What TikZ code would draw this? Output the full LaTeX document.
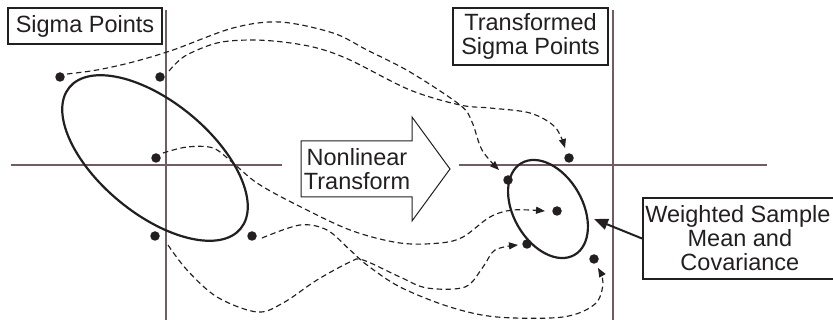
\documentclass[tikz,border=0pt]{standalone}
\usepackage{fontspec}
\setmainfont{Liberation Sans}
\usetikzlibrary{arrows.meta,calc}
\definecolor{axiscol}{RGB}{112,92,98}
\definecolor{ink}{RGB}{35,31,32}
\begin{document}
\begin{tikzpicture}[x=1pt,y=-1pt,
  axisline/.style={draw=axiscol,line width=1.6pt},
  dotnode/.style={circle,fill=ink,inner sep=0pt,minimum size=9.5pt},
  labelbox/.style={draw=ink,line width=1.8pt,inner sep=0pt,align=center,text=ink,
    font=\fontsize{23.5}{24}\selectfont},
  flow/.style={ink,line width=1.15pt,dash pattern=on 5.5pt off 3.5pt,
    -{Triangle[length=9pt,width=7pt]},smooth,tension=0.55},
  ell/.style={draw=ink,line width=2.2pt}]
\useasboundingbox (0,0) rectangle (833,320);
% axes
\draw[axisline] (166,10) -- (166,320);
\draw[axisline] (11,165) -- (282,165);
\draw[axisline] (613,10) -- (613,320);
\draw[axisline] (459,165) -- (767,165);
% ellipses
\draw[ell,rotate around={-39.5:(155,158)}] (155,158) ellipse [x radius=111, y radius=56];
\draw[ell,rotate around={-60:(548,209)}] (548,209) ellipse [x radius=53, y radius=34.5];
\coordinate (etip) at (594,219);
% dots
\node[dotnode] (L1) at (60,77) {};
\node[dotnode] (L2) at (160,77) {};
\node[dotnode] (L3) at (156,158) {};
\node[dotnode] (L4) at (155,236) {};
\node[dotnode] (L5) at (252,236) {};
\node[dotnode] (R1) at (569,158) {};
\node[dotnode] (R2) at (508,180) {};
\node[dotnode] (R3) at (557,211) {};
\node[dotnode] (R4) at (527,244) {};
\node[dotnode] (R5) at (594,259) {};
% labels
\node[labelbox,minimum width=154pt,minimum height=36pt] (sp) at (85,26) {Sigma Points};
\node[labelbox,minimum width=155pt,minimum height=57pt] (tsp) at (530.5,36.5) {Transformed\\Sigma Points};
\node[labelbox,minimum width=194pt,minimum height=81pt,anchor=west] (ws) at (642,238.5) {\hspace*{-4pt}Weighted Sample\\Mean and\\Covariance};
% nonlinear transform arrow
\draw[draw=ink,line width=1pt] (301,141) -- (412,141) -- (412,117) -- (450,169) -- (412,221) -- (412,197) -- (301,197) -- cycle;
\node[text=ink,align=center,inner sep=0pt,font=\fontsize{23.5}{24}\selectfont] (nt) at (357,169) {Nonlinear\\Transform};
% weighted arrow
\draw[ink,line width=2pt,-{Triangle[length=14pt,width=11pt]}] (ws.west) -- (etip);
% flows
\draw[flow] plot coordinates {($(L1)+(7,-3)$) (97,70) (133,62) (173,50) (233,28) (280,22) (333,33) (367,50) (410,72) (460,105) (472,122) (482,150) ($(R2)+(-9,-10)$)};
\draw[flow] plot coordinates {($(L2)+(9,-6)$) (185,56) (217,43) (250,40) (283,42) (317,48) (350,60) (410,90) (460,105) (490,108) (530,113) (555,127) ($(R1)+(-4,-10)$)};
\draw[flow] plot coordinates {($(L3)+(7,-5)$) (187,147) (213,148) (233,163) (257,183) (293,203) (350,230) (400,243) (440,243) (463,237) (490,217) (513,210) ($(R3)+(-12,0)$)};
\draw[flow] plot coordinates {($(L5)+(10,2)$) (300,225) (327,230) (350,250) (367,265) (400,287) (450,307) (497,317) (563,317) (595,304) (603,283) ($(R5)+(4,9)$)};
\draw[flow] plot coordinates {($(L4)+(13,9)$) (187,270) (217,297) (257,312) (283,303) (317,280) (350,262) (363,260) (400,277) (427,288) (465,287) (483,267) (495,250) ($(R4)+(-9,1)$)};
\end{tikzpicture}
\end{document}
